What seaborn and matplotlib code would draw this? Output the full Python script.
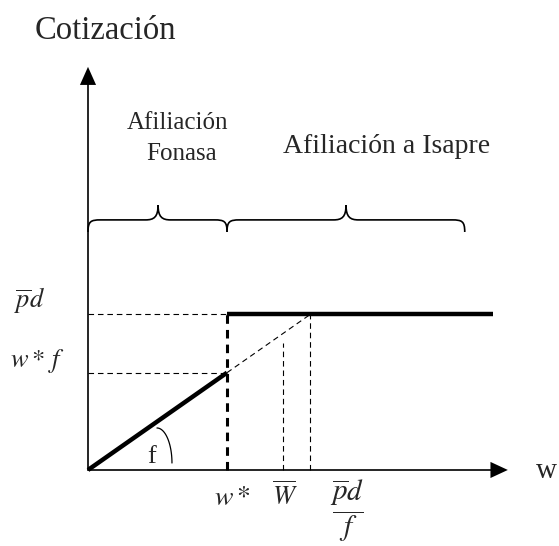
import matplotlib
matplotlib.use("Agg")
import matplotlib.pyplot as plt
from matplotlib.path import Path
from matplotlib.patches import PathPatch
import seaborn as sns
import numpy as np
import pandas as pd

# --- DATA (schematic units, w* = 1) ---
W_STAR = 1.0          # threshold wage
W_BAR = 1.40          # W-bar
F_RATE = 0.70         # contribution rate f (slope)
PD_LEVEL = 1.12       # p-bar * d (cap)
X_END = 2.91          # end of the thick line
X_AXIS_MAX = 3.02
Y_AXIS_MAX = 2.90
BRACE_SPANS = [(0.0, W_STAR), (W_STAR, 2.71)]
BRACE_TIPS = [0.504, 1.856]
BRACE_LABELS = ["Afiliación\nFonasa", "Afiliación a Isapre"]

PD_OVER_F = PD_LEVEL / F_RATE

sns.set_style("white")
plt.rcParams['font.family'] = ['Liberation Serif', 'DejaVu Serif']
plt.rcParams['mathtext.fontset'] = 'stix'

fig = plt.figure(figsize=(5.59, 5.46), dpi=100)
ax = fig.add_axes([0, 0, 1, 1])
ax.set_xlim(-0.633, 3.388)
ax.set_ylim(-0.547, 3.381)
ax.axis('off')

# contribution schedule: f*w until w*, then capped at p-bar*d
sched = pd.DataFrame({'w': [0.0, W_STAR], 'c': [0.0, W_STAR * F_RATE]})
cap = pd.DataFrame({'w': [W_STAR, X_END], 'c': [PD_LEVEL, PD_LEVEL]})
sns.lineplot(data=sched, x='w', y='c', color='black', lw=3.2, ax=ax,
             solid_capstyle='butt')
sns.lineplot(data=cap, x='w', y='c', color='black', lw=3.2, ax=ax,
             solid_capstyle='butt')

# thick dashed jump at w*
ax.plot([W_STAR, W_STAR], [0, PD_LEVEL], color='black', lw=2.2,
        ls=(0, (2.8, 2.0)))
# thin dashed guides
thin = dict(color='black', lw=0.8, ls=(0, (5, 3.5)))
ax.plot([0, W_STAR], [PD_LEVEL, PD_LEVEL], **thin)
ax.plot([0, W_STAR], [W_STAR * F_RATE] * 2, **thin)
ax.plot([W_STAR, PD_OVER_F], [W_STAR * F_RATE, PD_LEVEL], **thin)
ax.plot([W_BAR, W_BAR], [0, W_BAR * F_RATE - 0.07], **thin)
ax.plot([PD_OVER_F, PD_OVER_F], [0, PD_LEVEL], **thin)

# axes with arrows
ax.plot([0, X_AXIS_MAX - 0.1], [0, 0], color='black', lw=1.2)
ax.plot([0, 0], [0, Y_AXIS_MAX - 0.1], color='black', lw=1.2)
ax.fill([X_AXIS_MAX - 0.125, X_AXIS_MAX, X_AXIS_MAX - 0.125],
        [-0.058, 0, 0.058], color='black', lw=0)
ax.fill([-0.058, 0, 0.058],
        [Y_AXIS_MAX - 0.13, Y_AXIS_MAX, Y_AXIS_MAX - 0.13], color='black', lw=0)

# angle mark for f: a ")" shaped quarter ellipse under the slope
t = np.linspace(0, np.pi / 2, 40)
ax.plot(0.496 + 0.108 * np.cos(t), 0.050 + 0.252 * np.sin(t),
        color='black', lw=0.9)
ax.text(0.46, 0.05, 'f', fontsize=19, ha='center', va='baseline')


def brace(x0, x1, xm, ye=1.712, yf=1.799, yt=1.906, r=0.09):
    verts = [(x0, ye),
             (x0, yf - 0.01), (x0 + 0.02, yf), (x0 + r, yf),
             (xm - r, yf),
             (xm - 0.03, yf), (xm, yf + 0.02), (xm, yt),
             (xm, yf + 0.02), (xm + 0.03, yf), (xm + r, yf),
             (x1 - r, yf),
             (x1 - 0.02, yf), (x1, yf - 0.01), (x1, ye)]
    codes = [Path.MOVETO,
             Path.CURVE4, Path.CURVE4, Path.CURVE4,
             Path.LINETO,
             Path.CURVE4, Path.CURVE4, Path.CURVE4,
             Path.CURVE4, Path.CURVE4, Path.CURVE4,
             Path.LINETO,
             Path.CURVE4, Path.CURVE4, Path.CURVE4]
    ax.add_patch(PathPatch(Path(verts, codes), fill=False, lw=1.2,
                           edgecolor='black'))


for (x0, x1), xm in zip(BRACE_SPANS, BRACE_TIPS):
    brace(x0, x1, xm)

line1, line2 = BRACE_LABELS[0].split("\n")
ax.text(0.647, 2.453, line1, fontsize=18, ha='center', va='baseline')
ax.text(0.670, 2.230, line2, fontsize=18, ha='center', va='baseline')
ax.text(2.151, 2.281, BRACE_LABELS[1], fontsize=20, ha='center', va='baseline')

ax.text(0.122, 3.10, 'Cotización', fontsize=23.5, ha='center', va='baseline')
ax.text(3.30, -0.058, 'w', fontsize=21, ha='center', va='baseline')

# axis tick labels (math)
ax.text(-0.309, 1.165, r'$\overline{p}d$', fontsize=19, ha='right', va='baseline')
ax.text(-0.165, 0.741, r'$w*\,f$', fontsize=19, ha='right', va='baseline')
ax.text(1.036, -0.252, r'$w*$', fontsize=20, ha='center', va='baseline')
ax.text(W_BAR + 0.017, -0.252, r'$\overline{W}$', fontsize=19, ha='center',
        va='baseline')
ax.text(1.863, -0.295, r'$\dfrac{\overline{p}d}{f}$', fontsize=21,
        ha='center', va='center')

fig.savefig('out.png', dpi=100)
